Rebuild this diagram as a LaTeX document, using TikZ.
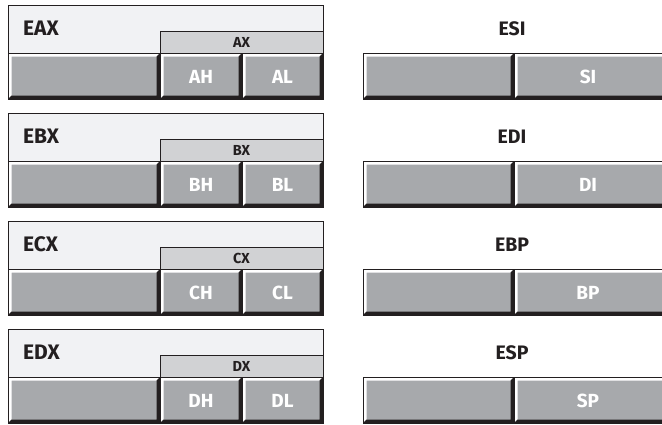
\documentclass[tikz,border=0pt]{standalone}
\usepackage{fontspec}
\setmainfont{Fira Sans}
\usetikzlibrary{calc}
\definecolor{ink}{HTML}{231F20}
\definecolor{framefill}{HTML}{F1F2F4}
\definecolor{barfill}{HTML}{D1D2D4}
\definecolor{cellfill}{HTML}{A7A9AC}
\newcommand{\bevcell}[4]{%
  \fill[cellfill] (#1,#2) rectangle (#3,#4);
  \fill[white] (#1,#2) -- (#3,#2) -- ({#3-3.5},{#2+3.5}) -- ({#1+3.5},{#2+3.5}) -- ({#1+3.5},{#4-3.5}) -- (#1,#4) -- cycle;
  \fill[ink] (#3,#2) -- (#3,#4) -- (#1,#4) -- ({#1+3.5},{#4-3.5}) -- ({#3-3.5},{#4-3.5}) -- ({#3-3.5},{#2+3.5}) -- cycle;
  \draw[ink,line width=1pt] (#1,#2) rectangle (#3,#4);
}
\tikzset{
  biglabel/.style={font=\bfseries\fontsize{21}{21}\selectfont, text=ink, inner sep=0pt},
  barlabel/.style={font=\bfseries\fontsize{14.5}{14.5}\selectfont, text=ink, inner sep=0pt},
  rightlabel/.style={font=\bfseries\fontsize{19.5}{19.5}\selectfont, text=ink, inner sep=0pt},
  celllabel/.style={font=\bfseries\fontsize{19}{19}\selectfont, text=white, inner sep=0pt},
  framebox/.style={fill=framefill, draw=ink, line width=1pt},
  barbox/.style={fill=barfill, draw=ink, line width=1pt},
}
\begin{document}
\begin{tikzpicture}[x=1pt,y=-1pt]
\useasboundingbox (0,0) rectangle (662,424);
\clip (0,0) rectangle (662,424);
\foreach \i/\big/\half/\hi/\lo/\rbig/\rsmall in {0/EAX/AX/AH/AL/ESI/SI, 1/EBX/BX/BH/BL/EDI/DI, 2/ECX/CX/CH/CL/EBP/BP, 3/EDX/DX/DH/DL/ESP/SP}{
  \pgfmathsetmacro{\T}{5+108*\i}
  % left register
  \path[framebox] (8,\T) rectangle (323,{\T+94});
  \path[barbox] (160,{\T+26}) rectangle (323,{\T+48});
  \bevcell{8}{\T+48}{160}{\T+94}
  \bevcell{160}{\T+48}{242}{\T+94}
  \bevcell{242}{\T+48}{323}{\T+94}
  \node[biglabel, anchor=west] (big-\i) at (23,{\T+23}) {\big};
  \node[barlabel] (half-\i) at (241.5,{\T+37.5}) {\half};
  \node[celllabel] (hi-\i) at (201,{\T+72}) {\hi};
  \node[celllabel] (lo-\i) at (282.5,{\T+72}) {\lo};
  % right register
  \bevcell{363}{\T+48}{514}{\T+94}
  \bevcell{514}{\T+48}{668}{\T+94}
  \node[rightlabel] (rbig-\i) at (512,{\T+24}) {\rbig};
  \node[celllabel] (rsmall-\i) at (588,{\T+72}) {\rsmall};
}
\end{tikzpicture}
\end{document}
